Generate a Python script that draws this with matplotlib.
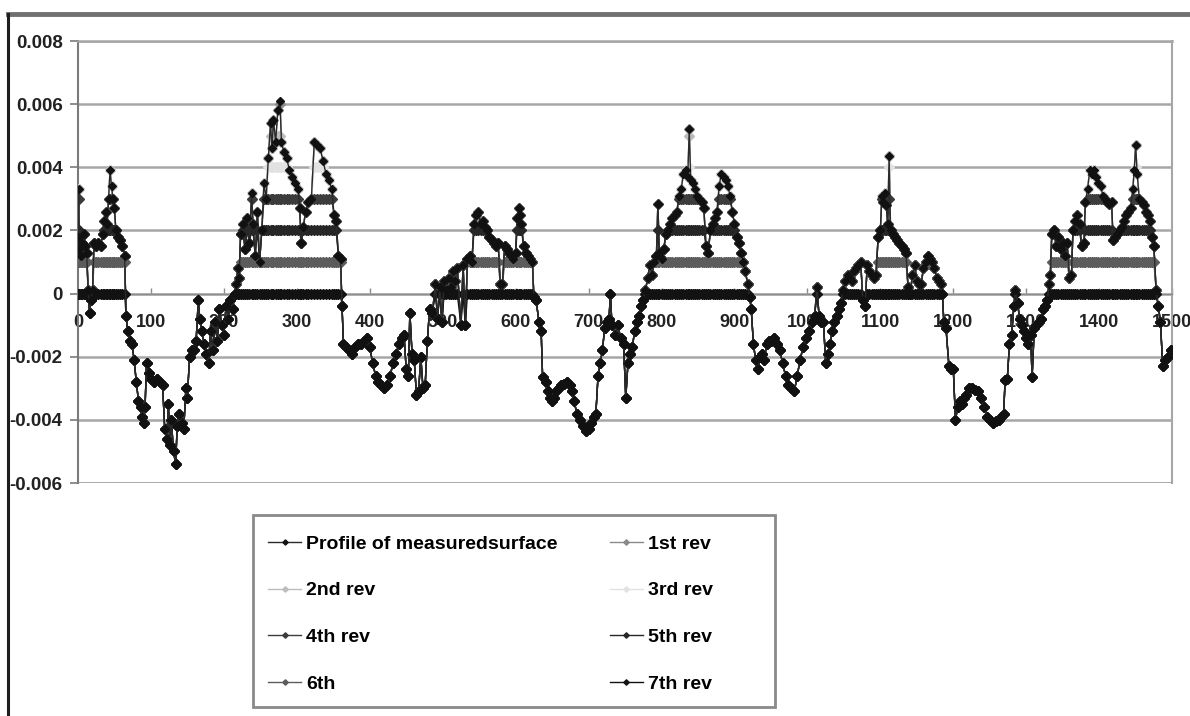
import numpy as np
import matplotlib
matplotlib.use("Agg")
from matplotlib import pyplot as plt
from matplotlib.lines import Line2D
from matplotlib.patches import Rectangle

plt.rcParams['font.family'] = ['Liberation Sans', 'DejaVu Sans']
plt.rcParams['font.weight'] = 'bold'

# sample position along the surface
position = [
    0, 1, 2, 4, 6, 8, 10, 12, 14, 16,
    18, 20, 22, 25, 28, 31, 34, 36, 38, 40,
    42, 44, 46, 48, 50, 52, 55, 58, 61, 64,
    66, 68, 71, 74, 77, 80, 83, 86, 88, 90,
    92, 94, 97, 100, 104, 108, 112, 116, 119, 122,
    124, 126, 128, 131, 134, 136, 139, 142, 145, 148,
    150, 153, 156, 159, 162, 165, 167, 170, 173, 176,
    179, 182, 185, 188, 191, 194, 197, 200, 203, 206,
    209, 212, 215, 217, 219, 221, 223, 226, 229, 232,
    235, 238, 240, 243, 246, 249, 252, 255, 258, 261,
    264, 266, 268, 271, 274, 277, 279, 282, 286, 290,
    294, 298, 302, 304, 306, 309, 312, 316, 320, 324,
    328, 332, 336, 340, 344, 348, 351, 354, 357, 360,
    362, 364, 368, 372, 376, 380, 384, 388, 392, 396,
    400, 404, 408, 412, 416, 420, 424, 428, 432, 436,
    440, 444, 447, 450, 453, 455, 458, 461, 464, 467,
    470, 473, 476, 479, 482, 486, 490, 493, 496, 499,
    502, 505, 508, 511, 514, 517, 520, 525, 528, 531,
    534, 537, 540, 543, 546, 549, 552, 555, 558, 561,
    564, 567, 570, 573, 576, 579, 582, 585, 588, 591,
    594, 597, 600, 602, 604, 606, 608, 611, 614, 617,
    620, 623, 625, 628, 632, 635, 637, 641, 644, 647,
    650, 653, 656, 659, 662, 666, 670, 674, 677, 680,
    684, 688, 692, 696, 700, 704, 707, 710, 713, 716,
    719, 722, 725, 728, 730, 732, 736, 740, 744, 748,
    751, 754, 757, 760, 763, 766, 769, 772, 775, 778,
    781, 784, 787, 790, 793, 795, 797, 800, 803, 806,
    809, 812, 815, 818, 821, 824, 827, 830, 833, 836,
    838, 840, 843, 846, 849, 852, 855, 858, 861, 864,
    867, 870, 873, 876, 879, 882, 885, 888, 891, 894,
    897, 900, 903, 906, 909, 912, 915, 918, 921, 923,
    926, 929, 932, 935, 938, 941, 944, 947, 950, 954,
    958, 962, 966, 970, 974, 978, 982, 986, 990, 994,
    998, 1002, 1006, 1010, 1013, 1016, 1019, 1022, 1025, 1028,
    1031, 1034, 1037, 1040, 1043, 1046, 1049, 1052, 1055, 1058,
    1061, 1064, 1067, 1070, 1073, 1076, 1079, 1082, 1085, 1088,
    1091, 1094, 1097, 1100, 1102, 1104, 1106, 1108, 1110, 1112,
    1114, 1117, 1120, 1123, 1126, 1129, 1132, 1135, 1138, 1141,
    1144, 1147, 1150, 1153, 1156, 1159, 1162, 1165, 1168, 1171,
    1174, 1177, 1180, 1183, 1185, 1187, 1190, 1194, 1197, 1200,
    1203, 1206, 1209, 1212, 1215, 1218, 1222, 1226, 1230, 1234,
    1238, 1242, 1246, 1250, 1254, 1258, 1262, 1266, 1269, 1271,
    1274, 1277, 1280, 1283, 1285, 1288, 1291, 1294, 1297, 1300,
    1303, 1306, 1308, 1311, 1314, 1317, 1320, 1323, 1326, 1329,
    1331, 1333, 1335, 1338, 1341, 1344, 1347, 1350, 1353, 1356,
    1359, 1362, 1364, 1367, 1370, 1373, 1376, 1379, 1381, 1384,
    1387, 1390, 1393, 1396, 1399, 1402, 1405, 1408, 1411, 1414,
    1417, 1419, 1422, 1425, 1428, 1431, 1434, 1437, 1440, 1443,
    1446, 1448, 1450, 1452, 1455, 1458, 1461, 1464, 1467, 1470,
    1472, 1475, 1478, 1481, 1484, 1487, 1490, 1494, 1498,
]

# measured height, in thousandths
height = [
    1.8, 3.3, 1.4, 1.2, 1.6, 1.9, 1.5, 1.3, 0.1, -0.6,
    -0.2, 0.1, 1.6, 1.5, 1.6, 1.5, 1.9, 2.3, 2.6, 2.2,
    3.0, 3.9, 3.4, 3.0, 2.7, 2.0, 1.8, 1.7, 1.5, 1.2,
    -0.7, -1.2, -1.5, -1.6, -2.1, -2.8, -3.4, -3.6, -3.9, -4.1,
    -3.6, -2.2, -2.5, -2.7, -2.8, -2.7, -2.8, -2.9, -4.3, -4.6,
    -3.5, -4.8, -4.0, -5.0, -5.4, -4.2, -3.8, -4.1, -4.3, -3.0,
    -3.3, -2.0, -1.8, -1.8, -1.5, -0.2, -0.8, -1.2, -1.6, -1.9,
    -2.2, -1.2, -1.8, -0.9, -1.5, -0.5, -1.0, -1.3, -0.4, -0.8,
    -0.2, -0.5, 0.0, 0.3, 0.8, 0.5, 1.9, 2.2, 1.4, 2.4,
    1.6, 3.2, 2.2, 1.2, 2.6, 1.0, 2.0, 3.5, 3.0, 4.3,
    5.4, 4.6, 5.5, 4.8, 5.8, 6.1, 4.8, 4.5, 4.3, 3.9,
    3.7, 3.5, 3.3, 2.7, 1.6, 2.1, 2.6, 2.9, 3.0, 4.8,
    4.7, 4.6, 4.2, 3.8, 3.6, 3.3, 2.5, 2.3, 1.2, 1.1,
    -0.4, -1.6, -1.7, -1.8, -1.9, -1.7, -1.6, -1.6, -1.5, -1.4,
    -1.7, -2.2, -2.6, -2.8, -2.9, -3.0, -2.9, -2.6, -2.2, -1.9,
    -1.6, -1.4, -1.3, -2.4, -2.6, -0.6, -1.9, -2.1, -3.2, -3.1,
    -2.0, -3.0, -2.9, -1.5, -0.5, -0.6, 0.3, -0.8, 0.2, -0.9,
    0.4, 0.1, 0.5, 0.2, 0.7, 0.4, 0.8, -1.0, 0.9, -1.0,
    1.1, 1.2, 1.0, 2.2, 2.5, 2.6, 2.2, 2.3, 2.1, 2.0,
    1.8, 1.7, 1.6, 1.5, 1.6, 0.3, 0.3, 1.5, 1.4, 1.3,
    1.2, 1.1, 1.3, 2.4, 2.7, 2.5, 2.2, 1.5, 1.3, 1.2,
    1.1, 1.0, -0.1, -0.2, -0.9, -1.2, -2.65, -2.8, -3.1, -3.3,
    -3.4, -3.3, -3.1, -3.0, -2.9, -2.85, -2.8, -2.9, -3.1, -3.4,
    -3.8, -4.0, -4.2, -4.35, -4.3, -4.1, -3.9, -3.8, -2.6, -2.2,
    -1.8, -1.1, -0.9, -0.8, 0.0, -1.0, -1.3, -1.0, -1.4, -1.6,
    -3.3, -2.2, -1.9, -1.7, -1.2, -0.9, -0.7, -0.4, -0.2, 0.1,
    0.5, 0.9, 0.6, 1.0, 1.2, 2.85, 1.3, 1.1, 1.4, 1.9,
    2.0, 2.2, 2.4, 2.5, 2.6, 3.1, 3.3, 3.8, 3.9, 3.7,
    5.2, 3.6, 3.5, 3.3, 3.1, 3.0, 2.9, 2.7, 1.5, 1.3,
    2.0, 2.2, 2.4, 2.6, 3.4, 3.8, 3.7, 3.6, 3.4, 3.1,
    2.6, 2.2, 1.8, 1.6, 1.3, 1.0, 0.7, 0.3, -0.1, -0.5,
    -1.6, -2.1, -2.4, -2.0, -1.9, -2.1, -1.6, -1.5, -1.5, -1.4,
    -1.6, -1.8, -2.2, -2.6, -2.9, -3.0, -3.1, -2.6, -2.1, -1.7,
    -1.4, -1.2, -0.9, -0.7, 0.2, -0.7, -0.9, -0.9, -2.2, -1.9,
    -1.6, -1.2, -0.9, -0.7, -0.5, -0.3, 0.1, 0.4, 0.6, 0.5,
    0.4, 0.7, 0.8, 0.9, 1.0, -0.2, -0.4, 0.9, 0.7, 0.6,
    0.5, 0.6, 1.8, 2.0, 3.1, 2.9, 3.2, 2.8, 2.2, 4.35,
    2.0, 1.9, 1.8, 1.7, 1.6, 1.5, 1.4, 1.3, 0.2, 0.0,
    0.6, 0.9, 0.4, 0.3, 0.3, 0.8, 1.0, 1.2, 1.1, 1.0,
    0.8, 0.5, 0.4, 0.3, 0.0, -0.9, -1.1, -2.3, -2.4, -2.4,
    -4.0, -3.6, -3.4, -3.5, -3.3, -3.2, -3.0, -3.0, -3.05, -3.1,
    -3.3, -3.6, -3.9, -4.0, -4.1, -4.05, -4.0, -3.9, -3.8, -2.75,
    -2.7, -1.6, -1.3, -0.4, 0.1, -0.3, -0.8, -1.0, -1.2, -1.4,
    -1.6, -1.3, -2.65, -1.1, -1.0, -0.9, -0.8, -0.5, -0.4, -0.2,
    0.3, 0.6, 1.9, 2.0, 1.5, 1.8, 1.4, 1.6, 1.2, 1.6,
    0.5, 0.6, 2.0, 2.3, 2.5, 2.2, 1.5, 1.6, 2.9, 3.3,
    3.9, 3.8, 3.9, 3.7, 3.5, 3.4, 3.1, 3.0, 2.9, 2.85,
    2.9, 1.7, 1.8, 1.9, 2.0, 2.1, 2.3, 2.5, 2.6, 2.7,
    3.3, 3.9, 4.7, 3.8, 3.0, 2.9, 2.8, 2.6, 2.5, 2.3,
    1.8, 1.5, 0.1, -0.4, -0.9, -2.3, -2.1, -2.0, -1.8,
]

# cutting level of each revolution, in thousandths
rev_labels = ['1st rev', '2nd rev', '3rd rev', '4th rev', '5th rev', '6th', '7th rev']
rev_levels = [6, 5, 4, 3, 2, 1, 0]
rev_colors = ['#8a8a8a', '#bcbcbc', '#e2e2e2', '#3c3c3c', '#262626', '#5c5c5c', '#121212']

x = np.array(position)
profile = np.array(height) / 1000.0

fig = plt.figure(figsize=(11.9, 7.16), dpi=100)
ax = fig.add_axes([0.0655, 0.3254, 0.9195, 0.6173])

lines = {}
ln, = ax.plot(x, profile, color='#2a2a2a', lw=1.0, marker='D', ms=4.4,
              mfc='#111111', mec='#111111', zorder=4)
lines['Profile of measuredsurface'] = ln

# surface left after each pass: profile clipped at the cutting level
for lab, lev, col in zip(rev_labels, rev_levels, rev_colors):
    cut = np.minimum(profile, lev / 1000.0)
    ln, = ax.plot(x, cut, color=col, lw=1.0, marker='D', ms=4.6,
                  mfc=col, mec=col, zorder=3)
    lines[lab] = ln

ax.set_xlim(0, 1500)
ax.set_ylim(-0.006, 0.008)
ax.set_xticks(np.arange(0, 1501, 100))
ax.set_yticks(np.arange(-0.006, 0.0081, 0.002))
ax.yaxis.set_major_formatter(plt.FuncFormatter(lambda v, p: f"{round(v, 4):g}"))

ax.grid(axis='y', color='#a6a6a6', lw=1.8, zorder=0)
ax.set_axisbelow(True)

ax.spines['bottom'].set_position(('data', 0))
ax.spines['bottom'].set_color('#8c8c8c')
ax.spines['bottom'].set_linewidth(1.0)
ax.spines['left'].set_color('#7a7a7a')
ax.spines['left'].set_linewidth(1.5)
ax.spines['right'].set_color('#a6a6a6')
ax.spines['right'].set_linewidth(1.5)
ax.spines['top'].set_color('#a6a6a6')
ax.spines['top'].set_linewidth(1.8)

ax.tick_params(axis='y', direction='out', length=6, width=1.2, color='#7a7a7a',
               labelsize=13.5, labelcolor='#222222', pad=5)
ax.tick_params(axis='x', direction='in', length=4, width=1.0, color='#8c8c8c',
               labelsize=13, labelcolor='#222222', pad=15)

# bottom edge of the plot area
ax.axhline(-0.006, color='#a6a6a6', lw=1.8, zorder=0)

# outer frame of the chart
fig.add_artist(Line2D([8 / 1190, 1.0], [1 - 14 / 716] * 2, color='#707070',
                      lw=3.5, transform=fig.transFigure))
fig.add_artist(Line2D([8 / 1190] * 2, [0.0, 1 - 14 / 716], color='#1e1e1e',
                      lw=2.2, transform=fig.transFigure))

# legend box below the plot
fig.add_artist(Rectangle((253 / 1190, 1 - 707 / 716), 522 / 1190, 192 / 716,
                         fill=False, ec='#8a8a8a', lw=2, transform=fig.transFigure))
order = ['Profile of measuredsurface', '2nd rev', '4th rev', '6th',
         '1st rev', '3rd rev', '5th rev', '7th rev']
fig.legend([lines[k] for k in order], order, ncol=2, loc='upper left',
           bbox_to_anchor=(268 / 1190, 1 - 535 / 716), frameon=False,
           prop={'size': 14, 'weight': 'bold'}, handlelength=1.7,
           handletextpad=0.25, columnspacing=2.7, labelspacing=1.5,
           borderpad=0, borderaxespad=0, markerscale=0.6)

fig.savefig('out.png', dpi=100)
